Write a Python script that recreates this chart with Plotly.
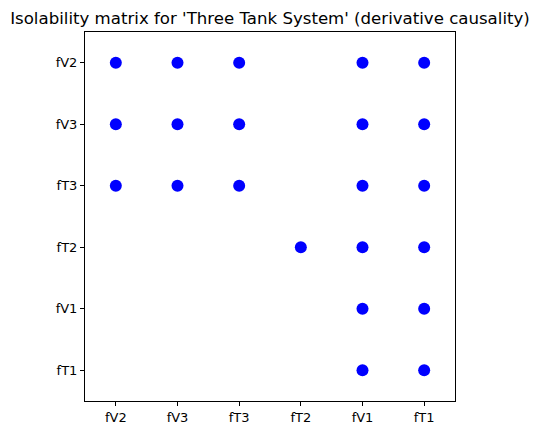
import plotly.graph_objects as go

# fault labels, same order on both axes
faults = ["fV2", "fV3", "fT3", "fT2", "fV1", "fT1"]

# isolability matrix (rows top to bottom, columns left to right)
im = [
    [1, 1, 1, 0, 1, 1],
    [1, 1, 1, 0, 1, 1],
    [1, 1, 1, 0, 1, 1],
    [0, 0, 0, 1, 1, 1],
    [0, 0, 0, 0, 1, 1],
    [0, 0, 0, 0, 1, 1],
]

xs, ys = [], []
for r, row in enumerate(im):
    for c, v in enumerate(row):
        if v:
            xs.append(c)
            ys.append(r)

fig = go.Figure(go.Scatter(
    x=xs, y=ys, mode="markers",
    marker=dict(color="#0000ff", size=12, line=dict(width=0)),
    hoverinfo="skip",
))

axis_common = dict(
    range=[-0.5, 5.5],
    tickvals=list(range(len(faults))),
    ticktext=faults,
    showgrid=False, zeroline=False, automargin=False,
    showline=True, linecolor="black", linewidth=1, mirror=True,
    ticks="outside", ticklen=4, tickcolor="black",
    tickfont=dict(size=13, color="black"),
)

# the page adds an 8px body margin, so shift the figure up/left
fig.update_layout(
    width=540, height=435,
    margin=dict(l=77, r=93, t=24, b=42),
    paper_bgcolor="white", plot_bgcolor="white",
    font=dict(family="DejaVu Sans", color="black"),
    title=dict(text="Isolability matrix for 'Three Tank System' (derivative causality)",
               x=0.5, xref="paper", xanchor="center",
               y=1 - 10 / 435, yref="container", yanchor="middle",
               automargin=False, font=dict(size=16.6)),
    xaxis=axis_common,
    yaxis=dict(axis_common, range=[5.5, -0.5]),
    showlegend=False,
)

fig.write_html("out.html")
